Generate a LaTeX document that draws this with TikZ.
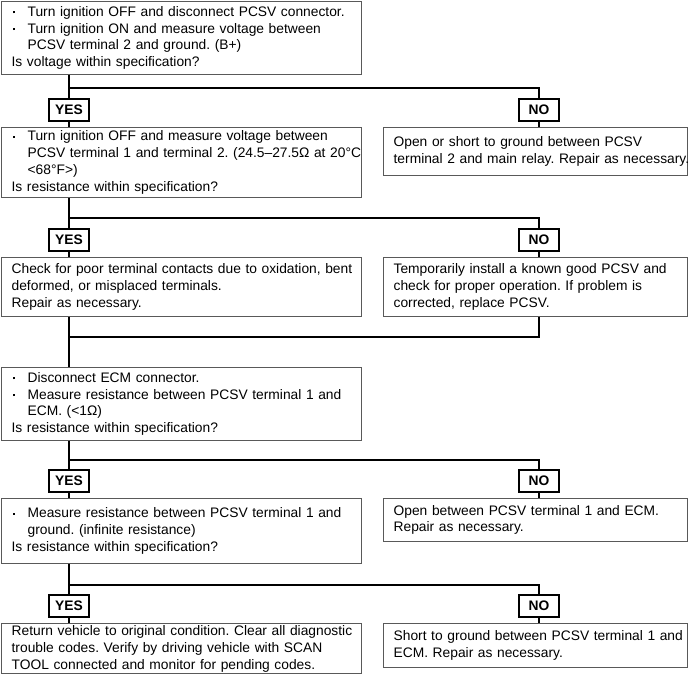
\documentclass[tikz,border=0pt]{standalone}
\usepackage{fontspec}
\setmainfont{Liberation Sans}
\frenchspacing
\newcommand\fs{\fontsize{13.8}{16.8}\selectfont\frenchspacing}
\newcommand\bul{\makebox[16pt][l]{\hspace{1.5pt}\raisebox{3pt}{\rule{2.2pt}{2.2pt}}}}
\newcommand\ind{\hspace*{16pt}}
\tikzset{
  box/.style={draw=black!65, line width=1.3pt, anchor=north west, inner xsep=10pt, inner ysep=0pt, align=left, font=\fs},
  lbox/.style={box, minimum width=360pt, text width=340pt},
  rbox/.style={box, minimum width=304pt, text width=284pt},
  ans/.style={draw=black, line width=1.1pt, minimum width=40pt, minimum height=22pt, inner sep=0pt, font=\bfseries\fs},
  conn/.style={draw=black, line width=1.3pt}
}
\begin{document}
\begin{tikzpicture}[x=1pt,y=-1pt]
\useasboundingbox (0,0) rectangle (688,674);
% main boxes
\node[lbox, minimum height=73pt] (b1) at (1,1) {\begin{tabular}{@{}l@{}}\bul Turn ignition OFF and disconnect PCSV connector.\\ \bul Turn ignition ON and measure voltage between\\ \ind PCSV terminal 2 and ground. (B+)\\ Is voltage within specification?\end{tabular}};
\node[lbox, minimum height=70pt] (b2) at (1,127) {\begin{tabular}{@{}l@{}}\bul Turn ignition OFF and measure voltage between\\ \ind PCSV terminal 1 and terminal 2. (24.5–27.5Ω at 20°C\\ \ind <68°F>)\\ Is resistance within specification?\end{tabular}};
\node[rbox, minimum height=48pt] (r1) at (383,127) {\begin{tabular}{@{}l@{}}Open or short to ground between PCSV\\ terminal 2 and main relay. Repair as necessary.\end{tabular}};
\node[lbox, minimum height=59pt] (b3) at (1,257) {\begin{tabular}{@{}l@{}}Check for poor terminal contacts due to oxidation, bent\\ deformed, or misplaced terminals.\\ Repair as necessary.\end{tabular}};
\node[rbox, minimum height=59pt] (r2) at (383,257) {\begin{tabular}{@{}l@{}}Temporarily install a known good PCSV and\\ check for proper operation. If problem is\\ corrected, replace PCSV.\end{tabular}};
\node[lbox, minimum height=73pt] (b4) at (1,367) {\begin{tabular}{@{}l@{}}\bul Disconnect ECM connector.\\ \bul Measure resistance between PCSV terminal 1 and\\ \ind ECM. (<1Ω)\\ Is resistance within specification?\end{tabular}};
\node[lbox, minimum height=65pt] (b5) at (1,498) {\begin{tabular}{@{}l@{}}\bul Measure resistance between PCSV terminal 1 and\\ \ind ground. (infinite resistance)\\ Is resistance within specification?\end{tabular}};
\node[rbox, minimum height=43pt] (r3) at (383,498) {\begin{tabular}{@{}l@{}}Open between PCSV terminal 1 and ECM.\\ Repair as necessary.\end{tabular}};
\node[lbox, minimum height=49pt] (b6) at (1,623) {\begin{tabular}{@{}l@{}}Return vehicle to original condition. Clear all diagnostic\\ trouble codes. Verify by driving vehicle with SCAN\\ TOOL connected and monitor for pending codes.\end{tabular}};
\node[rbox, minimum height=44pt] (r4) at (383,623) {\begin{tabular}{@{}l@{}}Short to ground between PCSV terminal 1 and\\ ECM. Repair as necessary.\end{tabular}};
% answer boxes
\node[ans] (y1) at (69,110) {YES};
\node[ans] (n1) at (539,110) {NO};
\node[ans] (y2) at (69,240) {YES};
\node[ans] (n2) at (539,240) {NO};
\node[ans] (y3) at (69,481) {YES};
\node[ans] (n3) at (539,481) {NO};
\node[ans] (y4) at (69,606) {YES};
\node[ans] (n4) at (539,606) {NO};
% junctions
\coordinate (j1) at (69,88);
\coordinate (j2) at (69,218);
\coordinate (m) at (69,337);
\coordinate (j3) at (69,460);
\coordinate (j4) at (69,585);
% connectors
\draw[conn] (b1.south -| y1) -- (y1.north);
\draw[conn] (j1) -| (n1.north);
\draw[conn] (y1.south) -- (b2.north -| y1);
\draw[conn] (n1.south) -- (r1.north -| n1);
\draw[conn] (b2.south -| y2) -- (y2.north);
\draw[conn] (j2) -| (n2.north);
\draw[conn] (y2.south) -- (b3.north -| y2);
\draw[conn] (n2.south) -- (r2.north -| n2);
\draw[conn] (b3.south -| y2) -- (b4.north -| y2);
\draw[conn] (r2.south -| n2) |- (m);
\draw[conn] (b4.south -| y3) -- (y3.north);
\draw[conn] (j3) -| (n3.north);
\draw[conn] (y3.south) -- (b5.north -| y3);
\draw[conn] (n3.south) -- (r3.north -| n3);
\draw[conn] (b5.south -| y4) -- (y4.north);
\draw[conn] (j4) -| (n4.north);
\draw[conn] (y4.south) -- (b6.north -| y4);
\draw[conn] (n4.south) -- (r4.north -| n4);
\end{tikzpicture}
\end{document}
